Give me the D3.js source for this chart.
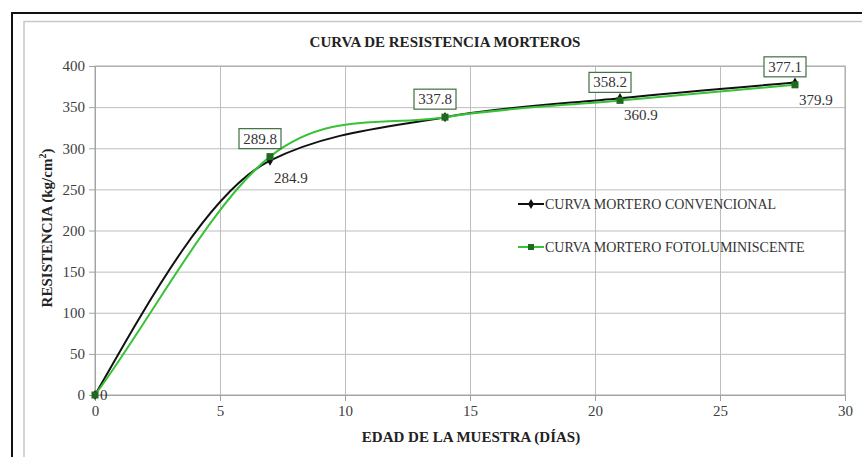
<!DOCTYPE html>
<html>
<head>
<meta charset="utf-8">
<script src="https://cdn.jsdelivr.net/npm/d3@7"></script>
<style>
  html, body { margin: 0; padding: 0; background: #fff; }
  svg text { font-family: "Liberation Serif", "DejaVu Serif", "Noto Serif", serif; }
</style>
</head>
<body>
<svg width="862" height="457"></svg>
<script>
'use strict';

// data
var dias = [0, 7, 14, 21, 28];
var convencional = [0, 284.9, 337.8, 360.9, 379.9];
var fotoluminiscente = [0, 289.8, 337.8, 358.2, 377.1];
var xTicks = [0, 5, 10, 15, 20, 25, 30];
var yTicks = [0, 50, 100, 150, 200, 250, 300, 350, 400];
var seriesNames = ["CURVA MORTERO CONVENCIONAL", "CURVA MORTERO FOTOLUMINISCENTE"];

var SERIF = "'Liberation Serif', 'DejaVu Serif', serif";

let svg = d3.select("svg"),
    width = +svg.attr("width"),
    height = +svg.attr("height");

// frame around the figure
svg.append("path")
    .attr("d", "M12,457 L12,13 L862,13")
    .attr("fill", "none").attr("stroke", "#111").attr("stroke-width", 2);
svg.append("path")
    .attr("d", "M24,457 L24,21.5 L862,21.5")
    .attr("fill", "none").attr("stroke", "#c8c8c8").attr("stroke-width", 1.5);

var x = d3.scaleLinear().domain([0, 30]).range([95, 845]);
var y = d3.scaleLinear().domain([0, 400]).range([395, 66]);

// grid
var g = svg.append("g");
g.append("g")
    .attr("transform", "translate(0," + y(0) + ")")
    .call(d3.axisBottom(x).tickValues(xTicks).tickSize(-(y(0) - y(400))).tickFormat(""))
    .call(function(a){ a.select(".domain").remove(); })
    .selectAll("line").attr("stroke", "#bdbdbd");
g.append("g")
    .attr("transform", "translate(" + x(0) + ",0)")
    .call(d3.axisLeft(y).tickValues(yTicks).tickSize(-(x(30) - x(0))).tickFormat(""))
    .call(function(a){ a.select(".domain").remove(); })
    .selectAll("line").attr("stroke", "#bdbdbd");

// axes with ticks and labels
var xAxis = g.append("g")
    .attr("transform", "translate(0," + y(0) + ")")
    .call(d3.axisBottom(x).tickValues(xTicks).tickSize(6).tickPadding(4));
var yAxis = g.append("g")
    .attr("transform", "translate(" + x(0) + ",0)")
    .call(d3.axisLeft(y).tickValues(yTicks).tickSize(6).tickPadding(4));
[xAxis, yAxis].forEach(function(a){
    a.attr("font-family", null);
    a.select(".domain").attr("stroke", "#a0a0a0");
    a.selectAll(".tick line").attr("stroke", "#a0a0a0");
    a.selectAll(".tick text")
        .attr("fill", "#404040")
        .style("font-family", SERIF)
        .style("font-size", "15px");
});
g.append("rect")
    .attr("x", x(0)).attr("y", y(400))
    .attr("width", x(30) - x(0)).attr("height", y(0) - y(400))
    .attr("fill", "none").attr("stroke", "#a8a8a8");

// titles
svg.append("text")
    .attr("x", 445).attr("y", 47)
    .attr("text-anchor", "middle")
    .attr("font-weight", "bold").attr("font-size", "15px").attr("fill", "#222")
    .text("CURVA DE RESISTENCIA MORTEROS");
svg.append("text")
    .attr("x", 471).attr("y", 442)
    .attr("text-anchor", "middle")
    .attr("font-weight", "bold").attr("font-size", "15px").attr("fill", "#222")
    .text("EDAD DE LA MUESTRA (DÍAS)");
var yl = svg.append("text")
    .attr("transform", "translate(52,228) rotate(-90)")
    .attr("text-anchor", "middle")
    .attr("font-weight", "bold").attr("font-size", "15px").attr("fill", "#222");
yl.append("tspan").text("RESISTENCIA (kg/cm");
yl.append("tspan").attr("font-size", "10px").attr("dy", -6).text("2");
yl.append("tspan").attr("dy", 6).text(")");

var conv = dias.map(function(d, i){ return [d, convencional[i]]; });
var foto = dias.map(function(d, i){ return [d, fotoluminiscente[i]]; });

// black curve: monotone smoothing
var line = d3.line()
    .x(function(d){ return x(d[0]); })
    .y(function(d){ return y(d[1]); })
    .curve(d3.curveMonotoneX);

// green curve: cubic hermite, Catmull-Rom tangents inside, chord slope at the ends
function smoothPath(pts){
    var n = pts.length, m = [];
    for (var i = 0; i < n; i++){
        if (i === 0) m.push((pts[1][1] - pts[0][1]) / (pts[1][0] - pts[0][0]));
        else if (i === n - 1) m.push((pts[i][1] - pts[i-1][1]) / (pts[i][0] - pts[i-1][0]));
        else m.push((pts[i+1][1] - pts[i-1][1]) / (pts[i+1][0] - pts[i-1][0]));
    }
    var p = d3.path();
    p.moveTo(x(pts[0][0]), y(pts[0][1]));
    for (var j = 0; j < n - 1; j++){
        var h = pts[j+1][0] - pts[j][0];
        p.bezierCurveTo(
            x(pts[j][0] + h / 3), y(pts[j][1] + m[j] * h / 3),
            x(pts[j+1][0] - h / 3), y(pts[j+1][1] - m[j+1] * h / 3),
            x(pts[j+1][0]), y(pts[j+1][1]));
    }
    return p.toString();
}

svg.append("path").datum(conv)
    .attr("d", line).attr("fill", "none")
    .attr("stroke", "#111").attr("stroke-width", 2);
svg.append("path").datum(foto)
    .attr("d", smoothPath).attr("fill", "none")
    .attr("stroke", "#38c238").attr("stroke-width", 2);

var diamond = d3.symbol().type(d3.symbolDiamond).size(30);
svg.append("g").selectAll("path")
    .data(conv).enter().append("path")
    .attr("d", diamond)
    .attr("transform", function(d){ return "translate(" + x(d[0]) + "," + y(d[1]) + ")"; })
    .attr("fill", "#111");
svg.append("g").selectAll("rect")
    .data(foto).enter().append("rect")
    .attr("x", function(d){ return x(d[0]) - 3.5; })
    .attr("y", function(d){ return y(d[1]) - 3.5; })
    .attr("width", 7).attr("height", 7)
    .attr("fill", "#1f6a1f");

// data labels: boxed ones for the green series, plain ones for the black
var boxed = svg.append("g").selectAll("g")
    .data(foto.filter(function(d){ return d[1] > 0; }))
    .enter().append("g")
    .attr("transform", function(d){ return "translate(" + (x(d[0]) - 10) + "," + (y(d[1]) - 18) + ")"; });
boxed.append("rect")
    .attr("x", -21).attr("y", -10).attr("width", 42).attr("height", 20)
    .attr("fill", "#fff").attr("stroke", "#3f6f3f").attr("stroke-width", 1.2);
boxed.append("text")
    .attr("text-anchor", "middle").attr("dy", 5)
    .attr("font-size", "15px").attr("fill", "#333")
    .text(function(d){ return d3.format(".1f")(d[1]); });

svg.append("g").selectAll("text")
    .data(conv.filter(function(d, i){ return convencional[i] !== fotoluminiscente[i] || d[1] === 0; }))
    .enter().append("text")
    .attr("x", function(d){ return d[1] === 0 ? x(d[0]) + 5 : x(d[0]) + 4; })
    .attr("y", function(d){ return d[1] === 0 ? y(d[1]) + 5 : y(d[1]) + 22; })
    .attr("font-size", "15px").attr("fill", "#333")
    .text(function(d){ return d[1] === 0 ? "0" : d3.format(".1f")(d[1]); });

// legend
var legend = svg.append("g").selectAll("g")
    .data(seriesNames).enter().append("g")
    .attr("transform", function(d, i){ return "translate(518," + (204 + i * 43) + ")"; });
legend.append("line")
    .attr("x1", 0).attr("x2", 26)
    .attr("stroke", function(d, i){ return i === 0 ? "#111" : "#38c238"; })
    .attr("stroke-width", 2);
legend.append("path")
    .attr("transform", "translate(13,0)")
    .attr("d", function(d, i){ return i === 0 ? diamond() : d3.symbol().type(d3.symbolSquare).size(36)(); })
    .attr("fill", function(d, i){ return i === 0 ? "#111" : "#1f6a1f"; });
legend.append("text")
    .attr("x", 27).attr("y", 5)
    .attr("font-size", "14px").attr("fill", "#333")
    .text(function(d){ return d; });
</script>
</body>
</html>
